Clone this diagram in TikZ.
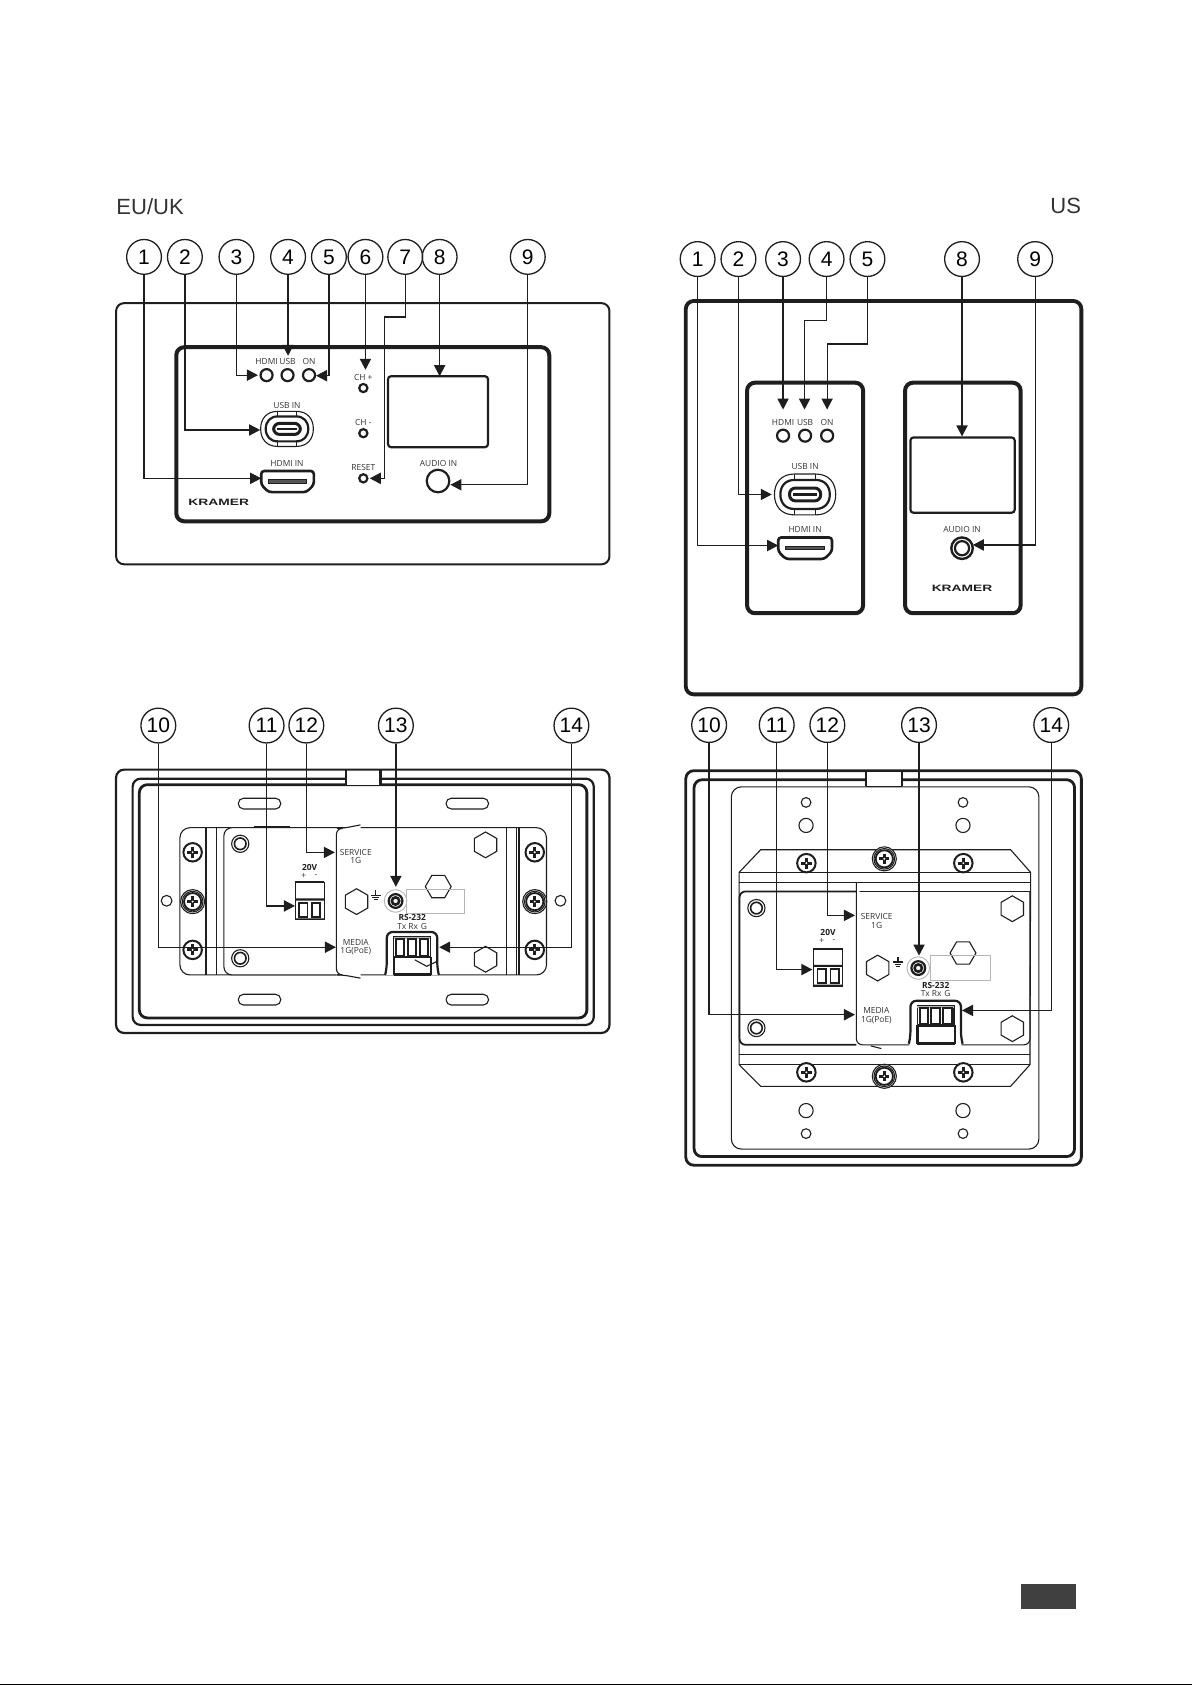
\documentclass[tikz,border=0pt]{standalone}
\usepackage{fontspec}
\setmainfont{Liberation Sans}
\newfontfamily\labelfont{Open Sans}
\newfontfamily\logofont[FakeStretch=1.5]{Liberation Sans}
\usetikzlibrary{arrows.meta}
\definecolor{ink}{HTML}{1E1E1E}
\definecolor{script}{HTML}{333333}
\definecolor{soft}{HTML}{B5B5B5}
\tikzset{
  bubble/.style={draw=ink,circle,line width=.65pt,minimum size=17.4pt,inner sep=0pt,font=\fontsize{10.5}{10.5}\selectfont},
  ptr/.style={draw=ink,line width=.62pt,-{Triangle[length=5.5pt,width=5.6pt]}},
  lbl/.style={inner sep=0pt,text=script,font=\labelfont\fontsize{4.2}{4.2}\selectfont},
  boldlbl/.style={inner sep=0pt,text=ink,font=\labelfont\bfseries\fontsize{4.2}{4.2}\selectfont},
  logo/.style={inner sep=0pt,text=ink,font=\logofont\bfseries\fontsize{4.6}{4.6}\selectfont},
  region/.style={inner sep=0pt,text=script,font=\fontsize{11}{11}\selectfont},
  hair/.style={draw=ink,line width=.55pt},
  rim/.style={draw=ink,line width=1.1pt},
  heavy/.style={draw=ink,line width=2pt},
  screwhead/.pic={
    \draw[draw=ink,line width=1pt,fill=white](0,0)circle(8.6);
    \draw[draw=ink,line width=1.4pt](-5.2,0)--(5.2,0)(0,-5.2)--(0,5.2);
    \fill[white](0,0)circle(1);
  },
  ringscrew/.pic={
    \draw[hair,fill=white](0,0)circle(11.2);
    \draw[hair](0,0)circle(9.6);
    \draw[draw=ink,line width=.9pt](0,0)circle(8);
    \draw[draw=ink,line width=1.4pt](-4.8,0)--(4.8,0)(0,-4.8)--(0,4.8);
    \fill[white](0,0)circle(1);
  },
  ringhole/.pic={
    \draw[hair](0,0)circle(8);
    \draw[draw=ink,line width=.8pt](0,0)circle(5.4);
  },
  jackport/.pic={
    \draw[draw=soft,line width=.45pt](0,0)circle(10.5);
    \draw[draw=ink,line width=1.1pt](0,0)circle(6.4);
    \draw[draw=ink,line width=1.3pt](0,0)circle(3.4);
  },
  groundmark/.pic={
    \draw[hair](0,-6)--(0,-1)(-4.6,-1)--(4.6,-1)(-3.2,1)--(3.2,1)(-1.6,3)--(1.6,3);
  },
  powerblock/.pic={
    \draw[hair,fill=white](-13.5,0)rectangle(13.5,35);
    \draw[draw=ink,line width=1.2pt](-13.5,0)--(13.5,0);
    \draw[draw=ink,line width=.9pt,fill=white](-10,19)rectangle(-2,32)(2,19)rectangle(10,32);
    \fill[ink](-13.5,15)rectangle(13.5,17)(-13.5,33.5)rectangle(13.5,35);
  },
  rsblock/.pic={
    \draw[rim,rounded corners=3pt,fill=white](-25,40)--(-23.5,34)--(-23.5,0)--(23.5,0)--(23.5,34)--(25,40);
    \draw[hair](-17,4.6)rectangle(17,23);
    \fill[soft](-17,4.6)rectangle(17,7);
    \foreach \s in {-11,0,11}
      \draw[draw=ink,line width=1pt,fill=white](\s-4,7)rectangle(\s+4,22);
    \draw[rim](-17,23)--(-17,40)(18,23)--(18,40);
    \fill[ink](-17,22)rectangle(18,24);
    \draw[draw=ink,line width=1.5pt](-17,39.5)--(18,39.5);
  },
  usbport/.pic={
    \draw[hair,fill=white](-10,-19)--(10,-19)..controls(22,-19)and(28.5,-11)..(28.5,0)..controls(28.5,11)and(22,19)..(10,19)--(-10,19)..controls(-22,19)and(-28.5,11)..(-28.5,0)..controls(-28.5,-11)and(-22,-19)..(-10,-19)--cycle;
    \draw[rim](-10,-13.5)--(10,-13.5)..controls(18,-13.5)and(23,-8)..(23,0)..controls(23,8)and(18,13.5)..(10,13.5)--(-10,13.5)..controls(-18,13.5)and(-23,8)..(-23,0)..controls(-23,-8)and(-18,-13.5)..(-10,-13.5)--cycle;
    \draw[hair](-10,-19)--(-10,-13.5)(10,-19)--(10,-13.5)(-10,13.5)--(-10,19)(10,13.5)--(10,19);
    \draw[draw=ink,line width=1.5pt,rounded corners=3pt](-14.5,-6)rectangle(14.5,6);
    \fill[ink](-11,-1.2)rectangle(11,1.2);
  },
  hdmiport/.pic={
    \draw[draw=ink,line width=1.3pt,rounded corners=1.5pt,fill=white](-25,-10)--(25,-10)--(25,3)--(18,10)--(-18,10)--(-25,3)--cycle;
    \draw[hair,fill=ink!75](-18,-2)rectangle(18,1.5);
  },
}
\newcommand{\hexa}[4][90]{\draw[hair](#2,#3)+(#1:#4)--+(#1+60:#4)--+(#1+120:#4)--+(#1+180:#4)--+(#1+240:#4)--+(#1+300:#4)--cycle;}
\begin{document}
\begin{tikzpicture}[x=.5375pt,y=-.5375pt]
\useasboundingbox(0,0)rectangle(1109,1567.6);
\node[region,anchor=west](regioneu)at(108,192){EU/UK};
\node[region,anchor=east](regionus)at(1006,192){US};

\begin{scope}
\draw[draw=ink,line width=1pt,rounded corners=4pt](108,282)rectangle(567,525);
\draw[draw=ink,line width=1.3pt](108,473)--(108,501);
\draw[heavy,rounded corners=4pt](164,323)rectangle(511,485);
\draw[rim,rounded corners=1.5pt](361,350)rectangle(454,416);
\foreach \i/\x in {1/134,2/172,3/220,4/268,5/306,6/340,7/377,8/409,9/491}
  \node[bubble](eu\i)at(\x,239){\i};
\foreach \n/\x/\t in {hdmi/248/HDMI,usb/267.5/USB,on/287.5/ON}{
  \node[lbl](eulbl\n)at(\x,336){\t};
  \draw[rim](\x,349)circle(5.6);
}
\foreach \n/\y/\t in {chp/351/CH +,chm/393.5/CH -,rst/434.5/RESET}{
  \node[lbl,xshift=0pt](eulbl\n)at(338,\y){\t};
}
\foreach \y in {361,403,445}\draw[rim](338,\y)circle(3.8);
\node[lbl](eulblusb)at(267,377.5){USB IN};
\pic[scale=.86]at(267,399){usbport};
\node[lbl](eulblhdmi)at(267,431){HDMI IN};
\pic[scale=.98]at(267.5,448){hdmiport};
\node[lbl](eulblaudio)at(408,431){AUDIO IN};
\draw[rim](407.5,447.5)circle(10.5);
\node[logo](eulogo)at(203.5,467){KRAMER};
\coordinate(eut1)at(243,445);
\coordinate(eut2)at(242,400);
\coordinate(eut3)at(240,349);
\coordinate(eut4)at(268,331);
\coordinate(eut5)at(294,349.5);
\coordinate(eut6)at(340,344);
\coordinate(euj7)at(358,295);
\coordinate(eut7)at(344,445);
\coordinate(eut8)at(409,350);
\coordinate(eut9)at(419,451);
\draw[ptr](eu1)|-(eut1);
\draw[ptr](eu2)|-(eut2);
\draw[ptr](eu3)|-(eut3);
\draw[ptr](eu4)--(eut4);
\draw[ptr](eu5)|-(eut5);
\draw[ptr](eu6)--(eut6);
\draw[ptr](eu7)|-(euj7)|-(eut7);
\draw[ptr](eu8)--(eut8);
\draw[ptr](eu9)|-(eut9);
\end{scope}

\begin{scope}
\draw[draw=ink,line width=1.9pt,rounded corners=4pt](638,280)rectangle(1006,646);
\draw[heavy,rounded corners=4pt](695,356)rectangle(803,570.5);
\draw[heavy,rounded corners=4pt](842,356)rectangle(949.5,570.5);
\draw[rim,rounded corners=1.5pt](847,407)rectangle(944,477);
\foreach \i/\x in {1/649,2/687,3/728.5,4/769,5/807,8/895,9/963}
  \node[bubble](us\i)at(\x,241){\i};
\foreach \n/\x/\t in {hdmi/728.5/HDMI,usb/749/USB,on/769.5/ON}{
  \node[lbl](uslbl\n)at(\x,393){\t};
  \draw[rim](\x,405.3)circle(5.6);
}
\node[lbl](uslblusb)at(749,434){USB IN};
\pic at(749,460){usbport};
\node[lbl](uslblhdmi)at(749,493){HDMI IN};
\pic at(749,510){hdmiport};
\node[lbl](uslblaudio)at(895,493){AUDIO IN};
\draw[draw=ink,line width=1.2pt](895,510)circle(10);
\draw[rim](895,510)circle(6.6);
\node[logo](uslogo)at(895,547.5){KRAMER};
\coordinate(ust1)at(724,507.5);
\coordinate(ust2)at(718,460);
\coordinate(ust3)at(728.5,381);
\coordinate(usj4)at(748.5,298);
\coordinate(ust4)at(748.5,381);
\coordinate(usj5)at(769.5,320);
\coordinate(ust5)at(769.5,381);
\coordinate(ust8)at(895,406);
\coordinate(ust9)at(905,507);
\draw[ptr](us1)|-(ust1);
\draw[ptr](us2)|-(ust2);
\draw[ptr](us3)--(ust3);
\draw[ptr](us4)|-(usj4)--(ust4);
\draw[ptr](us5)|-(usj5)--(ust5);
\draw[ptr](us8)--(ust8);
\draw[ptr](us9)|-(ust9);
\end{scope}

\begin{scope}
\draw[draw=ink,line width=1.1pt,rounded corners=4pt](108,716)rectangle(567,961);
\draw[draw=ink,line width=1.1pt,rounded corners=4pt](123.4,724.4)rectangle(552.4,953.5);
\draw[draw=ink,line width=1.4pt,rounded corners=4pt](129.6,730)rectangle(546,947);
\fill[white](323,717)rectangle(353,731);
\draw[rim](322,716)--(322,730.5)(354,716)--(354,730.5);
\draw[hair](322,730.5)--(354,730.5);
\foreach \x in {221.7,415}\foreach \y in {742.6,925}
  \draw[hair,rounded corners=2.6pt](\x,\y)rectangle(\x+39.5,\y+10);
\draw[hair,rounded corners=5pt](167.4,770)rectangle(508.4,907);
\draw[hair](201.5,770)--(201.5,907)(471.2,770)--(471.2,907)(480.5,770)--(480.5,907);
\draw[draw=ink,line width=.9pt](192,770)--(192,907)(483,770)--(483,907);
\draw[hair,fill=white,rounded corners=4pt](313,770)--(208.3,770)--(208.3,907)--(313,907);
\draw[rim](236,769.5)--(270,769.5);
\draw[hair,fill=white,rounded corners=3pt](335.4,767.4)--(319,770.6)--(313,770.6)--(313,907)--(319,907)--(335.4,910);
\pic at(179.2,792.9){screwhead};
\pic at(179.2,883.7){screwhead};
\pic at(179.2,838.8){ringscrew};
\pic at(497.5,792.9){screwhead};
\pic at(497.5,883.7){screwhead};
\pic at(497.5,838.8){ringscrew};
\draw[hair](155,838)circle(5);
\draw[hair](521.4,838)circle(5);
\pic at(223.5,785){ringhole};
\pic at(223.5,891.5){ringhole};
\hexa{451.7}{786}{12}
\hexa{451.7}{892.4}{12}
\hexa{331.7}{838.8}{12}
\hexa[0]{407.7}{824.8}{12}
\draw[draw=soft,line width=.45pt](378.2,827.3)rectangle(432,849.6);
\pic at(349.7,834){groundmark};
\pic at(368,838.2){jackport};
\node[lbl](eulblservice)at(331,793){SERVICE};
\node[lbl](eulblone)at(331,800.5){1G};
\node[lbl](eulblmedia)at(331,876.5){MEDIA};
\node[lbl](eulblpoe)at(331,884.5){1G(PoE)};
\node[boldlbl](eulblpower)at(288,807){20V};
\node[lbl](eulblplus)at(282.5,815){+};
\node[lbl](eulblminus)at(294,815){-};
\pic at(288,820.8){powerblock};
\node[boldlbl](eulblrs)at(383.5,854){RS-232};
\node[lbl](eulbltx)at(383.5,861.5){Tx Rx\,\,G};
\pic at(383.3,867){rsblock};
\draw[hair](386,893)--(397,899)--(406,894.6);
\foreach \i/\x in {10/147.3,11/248,12/285,13/368.3,14/531.6}
  \node[bubble](eu\i)at(\x,675){\i};
\coordinate(eut10)at(312.5,881.2);
\coordinate(eut11)at(274.4,842.8);
\coordinate(eut12)at(311.5,793);
\coordinate(eut13)at(368.3,825);
\coordinate(eut14)at(408.6,881.2);
\draw[ptr](eu10)|-(eut10);
\draw[ptr](eu11)|-(eut11);
\draw[ptr](eu12)|-(eut12);
\draw[ptr](eu13)--(eut13);
\draw[ptr](eu14)|-(eut14);
\end{scope}

\begin{scope}
\draw[draw=ink,line width=1.4pt,rounded corners=4pt](638,717)rectangle(1006,1084);
\draw[draw=ink,line width=1.4pt,rounded corners=4pt](645.7,725.4)rectangle(999.7,1076);
\fill[white](807,718)rectangle(838.5,731.5);
\draw[rim](806,717)--(806,731.5)(839.5,717)--(839.5,731.5);
\draw[hair](806,732)--(839.5,732);
\draw[hair,rounded corners=5pt](680.4,732)rectangle(966.5,1069);
\foreach \x in {749.9,895.9}{
  \draw[hair](\x,746.5)circle(4.5);
  \draw[hair](\x,767.9)circle(6.6);
  \draw[hair](\x,1033.2)circle(6.6);
  \draw[hair](\x,1054.6)circle(4.5);
}
\draw[hair,fill=white](687.6,811.6)--(707.7,790.5)--(940.2,790.5)--(958.8,811.6)--(958.2,990.5)--(940.2,1010.6)--(707.7,1010.6)--(687.6,990.5)--cycle;
\draw[hair](687.6,811.6)--(958.8,811.6)(687.6,820.6)--(958.2,820.6)(687.6,981)--(958.2,981)(687.6,990.5)--(958.2,990.5)(796.7,829.3)--(958.2,829.3);
\draw[draw=ink,line width=.9pt,fill=white,rounded corners=3pt](796.7,829.3)--(688,829.3)--(688,972)--(796.7,972);
\draw[hair,fill=white,rounded corners=3pt](796.7,820.6)--(796.7,972)--(846,972);
\draw[hair,rounded corners=3pt](894.5,972)--(958.2,972)--(958.2,829.3);
\draw[hair](810,973)--(820,975.5);
\pic at(750.2,803){screwhead};
\pic at(896.2,803){screwhead};
\pic at(822.7,799){ringscrew};
\pic at(750.2,997.6){screwhead};
\pic at(896.2,997.6){screwhead};
\pic at(822.7,1001.3){ringscrew};
\pic at(703.7,844.8){ringhole};
\pic at(703.7,956.4){ringhole};
\hexa{941.8}{845.4}{12}
\hexa{941.8}{957}{12}
\hexa{816.5}{900.6}{12}
\hexa[0]{895.9}{886.6}{12}
\draw[draw=soft,line width=.45pt](865.2,889)rectangle(921,911.7);
\pic at(835.4,896){groundmark};
\pic at(854.3,900.6){jackport};
\node[lbl](uslblservice)at(815.6,852.8){SERVICE};
\node[lbl](uslblone)at(815.6,860.9){1G};
\node[lbl](uslblmedia)at(815.3,940){MEDIA};
\node[lbl](uslblpoe)at(815.3,948.6){1G(PoE)};
\node[boldlbl](uslblpower)at(770.3,867.4){20V};
\node[lbl](uslblplus)at(764.4,875.8){+};
\node[lbl](uslblminus)at(775.9,875.8){-};
\pic at(770.6,882.6){powerblock};
\node[boldlbl](uslblrs)at(870.5,916.7){RS-232};
\node[lbl](uslbltx)at(870.5,924){Tx Rx\,\,G};
\pic at(870.5,931){rsblock};
\foreach \i/\x in {10/659.7,11/722.6,12/769.7,13/855,14/978}
  \node[bubble](us\i)at(\x,674.5){\i};
\coordinate(ust10)at(795.4,944);
\coordinate(ust11)at(755.8,902);
\coordinate(ust12)at(795.4,851.6);
\coordinate(ust13)at(855,889);
\coordinate(ust14)at(895,940);
\draw[ptr](us10)|-(ust10);
\draw[ptr](us11)|-(ust11);
\draw[ptr](us12)|-(ust12);
\draw[ptr](us13)--(ust13);
\draw[ptr](us14)|-(ust14);
\end{scope}

\fill[ink!85](949.8,1473.5)rectangle(1001,1496.7);
\fill[black](0,1566.7)rectangle(1109,1567.6);
\end{tikzpicture}
\end{document}
